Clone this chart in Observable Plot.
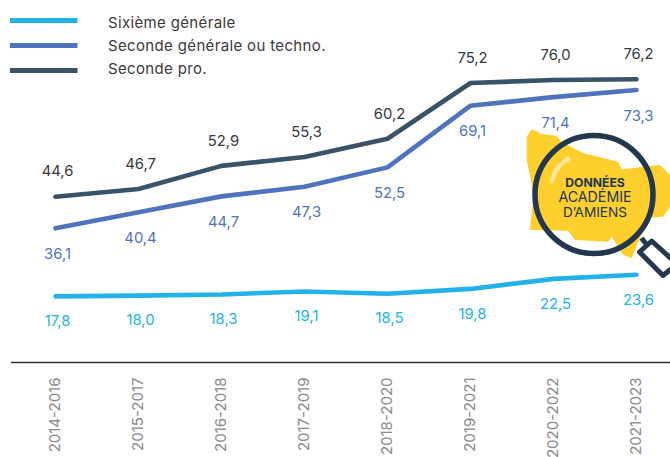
<!DOCTYPE html>
<html lang="fr">
<head>
<meta charset="utf-8">
<script src="https://cdn.jsdelivr.net/npm/d3@7"></script>
<script src="https://cdn.jsdelivr.net/npm/@observablehq/plot@0.6"></script>
<style>
html,body{margin:0;padding:0;background:#fff;overflow:hidden}
#wrap{position:relative;width:670px;height:457px;overflow:hidden}
#wrap svg{position:absolute;left:0;top:0;background:transparent}
</style>
</head>
<body>
<div id="wrap"></div>
<script>
const periods = ["2014-2016","2015-2017","2016-2018","2017-2019","2018-2020","2019-2021","2020-2022","2021-2023"];
const sixieme = [17.8,18.0,18.3,19.1,18.5,19.8,22.5,23.6];
const seconde = [36.1,40.4,44.7,47.3,52.5,69.1,71.4,73.3];
const secondePro = [44.6,46.7,52.9,55.3,60.2,75.2,76.0,76.2];
const seriesNames = ["Sixième générale","Seconde générale ou techno.","Seconde pro."];
const seriesColors = ["#22b2e8","#4f74bd","#3a5366"];
const labelColors = ["#22b2e8","#4f74bd","#333a40"];
const labelOffsets = [25,26,-25];
const FONT = "Inter, 'Noto Sans', sans-serif";

const table = vals => periods.map((p,i)=>({period:p,value:vals[i]}));
const fmt = d => d.value.toFixed(1).replace(".",",");
const allSeries = [sixieme,seconde,secondePro];

const chart = Plot.plot({
  width:670, height:457,
  marginTop:0, marginRight:0, marginBottom:95, marginLeft:11,
  style:{fontFamily:FONT, background:"transparent"},
  x:{type:"point", domain:periods, range:[53,637], padding:0},
  y:{domain:[0,97.4], axis:null},
  marks:[
    Plot.ruleY([0],{stroke:"#333",strokeWidth:1.5}),
    Plot.axisX({anchor:"bottom",tickSize:0,tickRotate:-90,tickPadding:15,fontSize:15,fill:"#8a8a8a",label:null}),
    ...allSeries.map((vals,i)=>Plot.line(table(vals),{x:"period",y:"value",stroke:seriesColors[i],strokeWidth:4.6,strokeLinejoin:"round"})),
    ...allSeries.map((vals,i)=>Plot.text(table(vals),{x:"period",y:"value",text:fmt,dx:2,dy:labelOffsets[i],fill:labelColors[i],fontSize:14.8}))
  ]
});
document.getElementById("wrap").appendChild(chart);

// Legend and the "Données académie d'Amiens" badge (decoration, not data)
const ns = "http://www.w3.org/2000/svg";
const ov = d3.select("#wrap").append("svg").attr("xmlns",ns).attr("width",670).attr("height",457).style("font-family",FONT);
seriesNames.forEach((n,i)=>{
  const y = 20.5+i*25;
  ov.append("line").attr("x1",10).attr("x2",77.5).attr("y1",y).attr("y2",y).attr("stroke",seriesColors[i]).attr("stroke-width",5);
  ov.append("text").attr("x",108).attr("y",27.5+i*23).attr("font-size",15).attr("letter-spacing",0.35).attr("fill","#3a3a3a").text(n);
});
const badge = ov.append("g");
badge.append("path").attr("fill","#ffcf2e").attr("d",
 "M531.7,129 L541.7,134 L556.7,136 L561.7,142 L583,153 L618,161.7 L621.7,169.3 L660,165 L670,175 L670,207 L663,216.7 L646,218 L643,230 L640,238 L631.7,258 L623,255 L611.7,236.7 L608,241.7 L575,240 L568,230.7 L530,230 L533,200 L531,180 L526.7,160 L526.7,136.7 Z");
badge.append("path").attr("d","M641.5,238 L647,245").attr("stroke","#23374f").attr("stroke-width",5).attr("fill","none");
badge.append("path").attr("d","M651.7,241 L639.5,252 L663,275.5 L677,264 Z").attr("stroke","#23374f").attr("stroke-width",5).attr("fill","#fff").attr("stroke-linejoin","round");
badge.append("circle").attr("cx",594).attr("cy",194.5).attr("r",59).attr("fill","none").attr("stroke","#23374f").attr("stroke-width",5.5);
badge.append("path").attr("d","M552,181 Q555,166 568,159").attr("stroke","#ffe79a").attr("stroke-width",4.5).attr("stroke-linecap","round").attr("fill","none");
[["DONNÉES",187,12.2,700],["ACADÉMIE",201.7,14.2,400],["D’AMIENS",216.7,13.6,400]].forEach(([t,y,s,w])=>{
  badge.append("text").attr("x",595).attr("y",y).attr("text-anchor","middle").attr("font-size",s).attr("font-weight",w).attr("fill","#23374f").text(t);
});
</script>
</body>
</html>
